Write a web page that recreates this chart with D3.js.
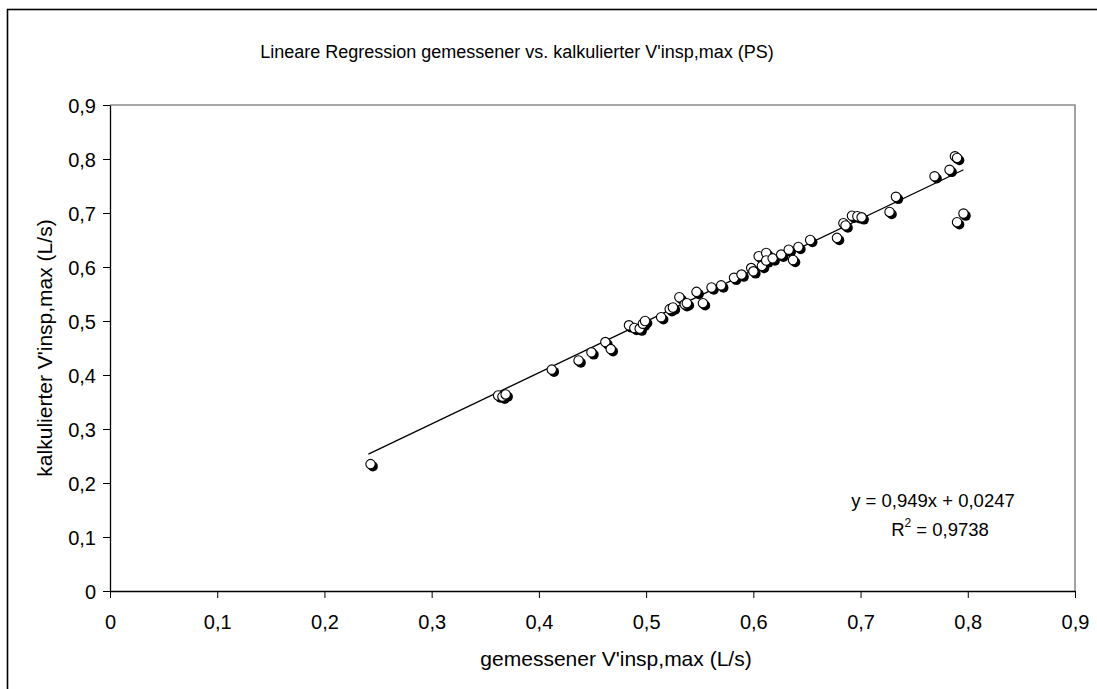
<!DOCTYPE html>
<html>
<head>
<meta charset="utf-8">
<script src="https://cdn.jsdelivr.net/npm/d3@7"></script>
<style>
  html, body { margin: 0; padding: 0; background: #fff; }
  svg { display: block; font-family: "Liberation Sans", Arial, sans-serif; }
</style>
</head>
<body>
<svg id="chart" width="1097" height="689"></svg>
<script>
// Measured vs. calculated peak inspiratory flow (L/s)
const measured = [
  0.243, 0.362, 0.366, 0.369, 0.412, 0.437, 0.449, 0.462, 0.467,
  0.484, 0.489, 0.494, 0.497, 0.499, 0.514, 0.522, 0.525, 0.531,
  0.536, 0.538, 0.547, 0.553, 0.561, 0.570, 0.582, 0.589, 0.598,
  0.600, 0.605, 0.608, 0.612, 0.612, 0.618, 0.626, 0.633, 0.637,
  0.642, 0.653, 0.678, 0.684, 0.686, 0.692, 0.697, 0.701, 0.727,
  0.733, 0.769, 0.783, 0.788, 0.790, 0.790, 0.796
];
const calculated = [
  0.235, 0.362, 0.360, 0.364, 0.410, 0.427, 0.442, 0.461, 0.448,
  0.492, 0.487, 0.486, 0.495, 0.500, 0.507, 0.522, 0.525, 0.544,
  0.531, 0.533, 0.554, 0.533, 0.562, 0.566, 0.580, 0.586, 0.598,
  0.592, 0.620, 0.602, 0.626, 0.612, 0.616, 0.623, 0.632, 0.613,
  0.637, 0.650, 0.654, 0.681, 0.677, 0.695, 0.694, 0.692, 0.702,
  0.730, 0.768, 0.780, 0.805, 0.802, 0.683, 0.699
];

// Linear trend line
const slope = 0.949;
const intercept = 0.0247;
const rSquared = "0,9738";

const xTicks = [0, 0.1, 0.2, 0.3, 0.4, 0.5, 0.6, 0.7, 0.8, 0.9];
const yTicks = [0, 0.1, 0.2, 0.3, 0.4, 0.5, 0.6, 0.7, 0.8, 0.9];

const titleText = "Lineare Regression gemessener vs. kalkulierter V'insp,max (PS)";
const xTitle = "gemessener V'insp,max (L/s)";
const yTitle = "kalkulierter V'insp,max (L/s)";

const fmt = v => (v === 0 ? "0" : d3.format(".1f")(v).replace(".", ","));

const svg = d3.select("#chart");
const plot = { left: 110, right: 1075, top: 105, bottom: 591 };

const x = d3.scaleLinear().domain([0, 0.9]).range([plot.left, plot.right]);
const y = d3.scaleLinear().domain([0, 0.9]).range([plot.bottom, plot.top]);

// Chart frame
svg.append("rect")
  .attr("x", 7.5).attr("y", 9.5)
  .attr("width", 1200).attr("height", 800)
  .attr("fill", "none").attr("stroke", "#000").attr("stroke-width", 1.6);

// Plot area border (top / right)
svg.append("path")
  .attr("d", `M${plot.left},${plot.top}H${plot.right}V${plot.bottom}`)
  .attr("fill", "none").attr("stroke", "#8c8c8c").attr("stroke-width", 1.6);

// Axes
const xAxis = svg.append("g")
  .attr("transform", `translate(0,${plot.bottom})`)
  .call(d3.axisBottom(x).tickValues(xTicks).tickFormat(fmt).tickSize(7).tickSizeOuter(0));
const yAxis = svg.append("g")
  .attr("transform", `translate(${plot.left},0)`)
  .call(d3.axisLeft(y).tickValues(yTicks).tickFormat(fmt).tickSize(7).tickSizeOuter(0));

[xAxis, yAxis].forEach(g => {
  g.select(".domain").attr("stroke", "#000").attr("stroke-width", 1.3);
  g.selectAll(".tick line").attr("stroke", "#000").attr("stroke-width", 1);
  g.selectAll(".tick text")
    .attr("fill", "#000")
    .style("font-family", "'Liberation Sans', Arial, sans-serif")
    .style("font-size", "20px");
});
xAxis.selectAll(".tick text").attr("dy", null).attr("y", 38);
yAxis.selectAll(".tick text").attr("x", -14).attr("dy", "0.35em");

// Trend line over the measured range
const xMin = d3.min(measured) - 0.002;
const xMax = d3.max(measured);
svg.append("line")
  .attr("x1", x(xMin)).attr("y1", y(slope * xMin + intercept))
  .attr("x2", x(xMax)).attr("y2", y(slope * xMax + intercept))
  .attr("stroke", "#000").attr("stroke-width", 1.3);

// Points: shaded circle markers
const pts = measured.map((v, i) => ({ mx: v, cy: calculated[i] }));
const marks = svg.append("g");
marks.selectAll("circle.shadow")
  .data(pts).join("circle")
  .attr("class", "shadow")
  .attr("cx", d => x(d.mx) + 2.3).attr("cy", d => y(d.cy) + 2.3)
  .attr("r", 5).attr("fill", "#000");
marks.selectAll("circle.face")
  .data(pts).join("circle")
  .attr("class", "face")
  .attr("cx", d => x(d.mx)).attr("cy", d => y(d.cy))
  .attr("r", 4.7).attr("fill", "#fff")
  .attr("stroke", "#000").attr("stroke-width", 1.1);

// Title
svg.append("text")
  .attr("x", 517).attr("y", 58)
  .attr("text-anchor", "middle")
  .style("font-size", "18px")
  .text(titleText);

// Axis titles
svg.append("text")
  .attr("x", 616).attr("y", 666)
  .attr("text-anchor", "middle")
  .style("font-size", "21px")
  .text(xTitle);
svg.append("text")
  .attr("transform", `translate(52,${(plot.top + plot.bottom) / 2}) rotate(-90)`)
  .attr("text-anchor", "middle")
  .style("font-size", "21px")
  .text(yTitle);

// Regression equation
svg.append("text")
  .attr("x", 933).attr("y", 507)
  .attr("text-anchor", "middle")
  .style("font-size", "18.5px")
  .text(`y = ${String(slope).replace(".", ",")}x + ${String(intercept).replace(".", ",")}`);
const r2 = svg.append("text")
  .attr("x", 940).attr("y", 536)
  .attr("text-anchor", "middle")
  .style("font-size", "18.5px");
r2.append("tspan").text("R");
r2.append("tspan").attr("dy", -9).style("font-size", "12px").text("2");
r2.append("tspan").attr("dy", 9).text(` = ${rSquared}`);
</script>
</body>
</html>
